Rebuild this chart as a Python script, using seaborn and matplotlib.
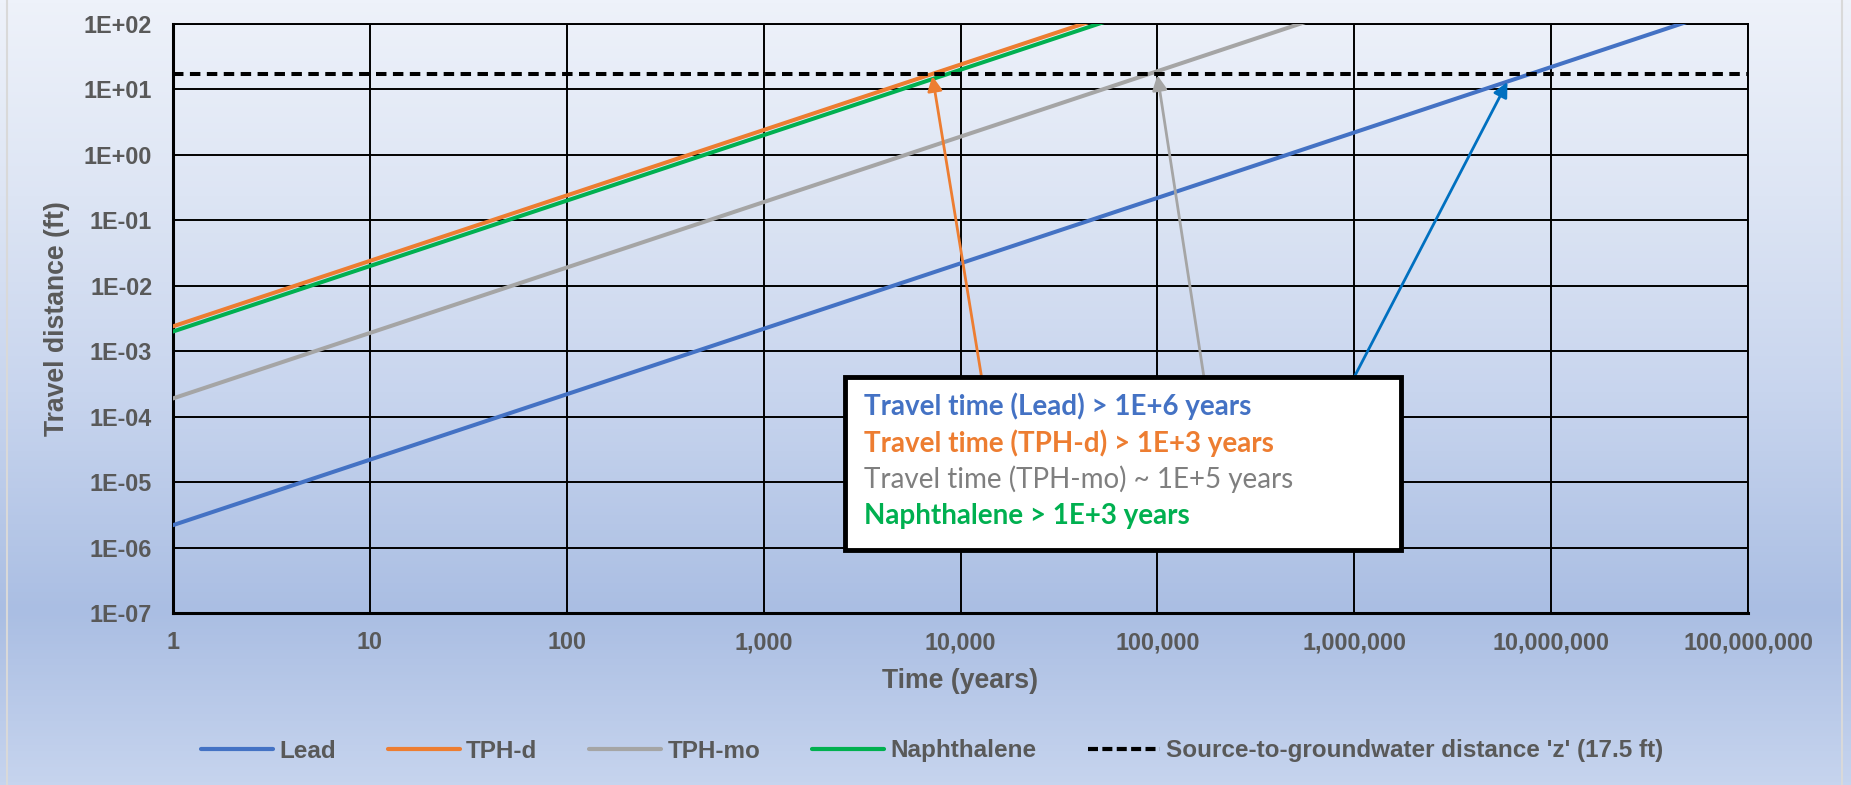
import numpy as np
import pandas as pd
import matplotlib
matplotlib.use("Agg")
import matplotlib.pyplot as plt
from matplotlib.lines import Line2D
from matplotlib.patches import Rectangle
from matplotlib.colors import LinearSegmentedColormap
from matplotlib.ticker import FixedLocator, FixedFormatter, NullLocator
import seaborn as sns

# ---------------- data ----------------
time_years = [1, 10, 100, 1000, 10000, 100000, 1000000, 10000000, 100000000]
lead = [2.2e-6, 2.2e-5, 2.2e-4, 2.2e-3, 2.2e-2, 2.2e-1, 2.2e0, 2.2e1, 2.2e2]
tph_d = [2.4e-3, 2.4e-2, 2.4e-1, 2.4e0, 2.4e1, 2.4e2, 2.4e3, 2.4e4, 2.4e5]
tph_mo = [1.9e-4, 1.9e-3, 1.9e-2, 1.9e-1, 1.9e0, 1.9e1, 1.9e2, 1.9e3, 1.9e4]
naphthalene = [2.0e-3, 2.0e-2, 2.0e-1, 2.0e0, 2.0e1, 2.0e2, 2.0e3, 2.0e4, 2.0e5]
z_distance = 17.5

series_names = ["Lead", "TPH-d", "TPH-mo", "Naphthalene"]
series_colors = ["#4472C4", "#ED7D31", "#A5A5A5", "#00B050"]

# arrows: (tail time, tail distance, head time, head distance)
arrow_tails_x = [1.3e4, 1.75e5, 9.5e5]
arrow_tails_y = [3.0e-4, 3.0e-4, 3.0e-4]
arrow_heads_x = [7.2e3, 1.0e5, 6.0e6]
arrow_heads_y = [16.0, 16.5, 13.0]
arrow_colors = ["#ED7D31", "#A5A5A5", "#0070C0"]

box_lines = ["Travel time (Lead) > 1E+6 years",
             "Travel time (TPH-d) > 1E+3 years",
             "Travel time (TPH-mo) ~ 1E+5 years",
             "Naphthalene > 1E+3 years"]
box_colors = ["#4472C4", "#ED7D31", "#7F7F7F", "#00B050"]
box_weights = ["bold", "bold", "normal", "bold"]

y_ticks = [1e-7, 1e-6, 1e-5, 1e-4, 1e-3, 1e-2, 1e-1, 1e0, 1e1, 1e2]
y_ticklabels = ["1E-07", "1E-06", "1E-05", "1E-04", "1E-03", "1E-02", "1E-01",
                "1E+00", "1E+01", "1E+02"]
x_ticklabels = ["1", "10", "100", "1,000", "10,000", "100,000", "1,000,000",
                "10,000,000", "100,000,000"]

df = pd.DataFrame({
    "time": time_years * 4,
    "dist": lead + tph_d + tph_mo + naphthalene,
    "series": sum([[n] * len(time_years) for n in series_names], []),
})

# ---------------- figure ----------------
sns.set_theme(style="white")
plt.rcParams["font.family"] = ["Liberation Sans", "DejaVu Sans"]

W, H, DPI = 1851, 785, 100
fig = plt.figure(figsize=(W / DPI, H / DPI), dpi=DPI)

# gradient background
bg = fig.add_axes([0, 0, 1, 1], zorder=-10)
cmap = LinearSegmentedColormap.from_list(
    "bg", [(0.0, "#EEF2FA"), (0.25, "#DDE5F4"), (0.5, "#C8D5EE"),
           (0.78, "#AABEE3"), (1.0, "#C6D4EE")])
grad = np.linspace(0, 1, 256).reshape(-1, 1)
bg.imshow(grad, aspect="auto", cmap=cmap, extent=[0, 1, 0, 1], origin="upper")
bg.set_axis_off()
bg.axvline(7 / W, color="#D9D9D9", lw=1.5)
bg.axvline(1842 / W, color="#D9D9D9", lw=1.5)

left, right, top, bottom = 173 / W, 1748 / W, 24 / H, 613 / H
ax = fig.add_axes([left, 1 - bottom, right - left, bottom - top])
ax.set_facecolor("none")

sns.lineplot(data=df, x="time", y="dist", hue="series",
             palette=dict(zip(series_names, series_colors)),
             hue_order=series_names, lw=2.9, legend=False, ax=ax, zorder=3,
             estimator=None, sort=False)
ax.set_xscale("log")
ax.set_yscale("log")
ax.set_xlim(1, 1e8)
ax.set_ylim(1e-7, 1e2)

ax.axhline(z_distance, color="black", lw=2.9, dashes=(2.6, 1.6), zorder=4)

ax.xaxis.set_major_locator(FixedLocator(time_years))
ax.xaxis.set_major_formatter(FixedFormatter(x_ticklabels))
ax.yaxis.set_major_locator(FixedLocator(y_ticks))
ax.yaxis.set_major_formatter(FixedFormatter(y_ticklabels))
ax.xaxis.set_minor_locator(NullLocator())
ax.yaxis.set_minor_locator(NullLocator())
ax.grid(True, which="major", color="black", lw=1.4, zorder=1)
ax.set_axisbelow(True)
for s in ax.spines.values():
    s.set_color("black")
    s.set_linewidth(1.4)
ax.spines["left"].set_linewidth(2.2)
ax.spines["bottom"].set_linewidth(2.2)

tick_col = "#595959"
ax.tick_params(axis="x", length=0, pad=13, labelsize=16.8, labelcolor=tick_col)
ax.tick_params(axis="y", length=0, pad=15, labelsize=16.8, labelcolor=tick_col)
for lab in ax.get_xticklabels() + ax.get_yticklabels():
    lab.set_fontweight("bold")

ax.set_xlabel("Time (years)", fontsize=19.2, fontweight="bold", color=tick_col, labelpad=10)
ax.set_ylabel("Travel distance (ft)", fontsize=19.2, fontweight="bold", color=tick_col, labelpad=10)

# arrows
for tx, ty, hx, hy, c in zip(arrow_tails_x, arrow_tails_y, arrow_heads_x, arrow_heads_y, arrow_colors):
    ax.annotate("", xy=(hx, hy), xytext=(tx, ty),
                arrowprops=dict(arrowstyle="-|>", color=c, lw=2.0,
                                mutation_scale=22, shrinkA=0, shrinkB=0),
                zorder=5)

# text box
bx0, bx1 = (845 - 173) / 1575, (1401 - 173) / 1575
by1, by0 = 1 - (377 - 24) / 589, 1 - (550 - 24) / 589
ax.add_patch(Rectangle((bx0, by0), bx1 - bx0, by1 - by0, transform=ax.transAxes,
                       facecolor="white", edgecolor="black", lw=3.5, zorder=8,
                       clip_on=False))
line_y_px = [406.7, 443.3, 479.3, 516]
for txt, c, w, ypx in zip(box_lines, box_colors, box_weights, line_y_px):
    ax.text((864 - 173) / 1575, 1 - (ypx - 24) / 589, txt, transform=ax.transAxes,
            color=c, fontweight=w, fontsize=20, family=["Lato", "DejaVu Sans"],
            va="center", ha="left", zorder=9)

# legend
handles = [Line2D([], [], color=c, lw=3) for c in series_colors]
handles.append(Line2D([], [], color="black", lw=3, dashes=(2.4, 1.05)))
labels = series_names + ["Source-to-groundwater distance 'z' (17.5 ft)"]
leg = fig.legend(handles, labels, loc="center", bbox_to_anchor=(0.5038, 1 - 751 / H),
                 ncol=5, frameon=False, handlelength=2.96, handletextpad=0.25,
                 columnspacing=2.14,
                 prop=dict(size=17.5, weight="bold"))
for t in leg.get_texts():
    t.set_color(tick_col)

fig.savefig("out.png", dpi=DPI)
